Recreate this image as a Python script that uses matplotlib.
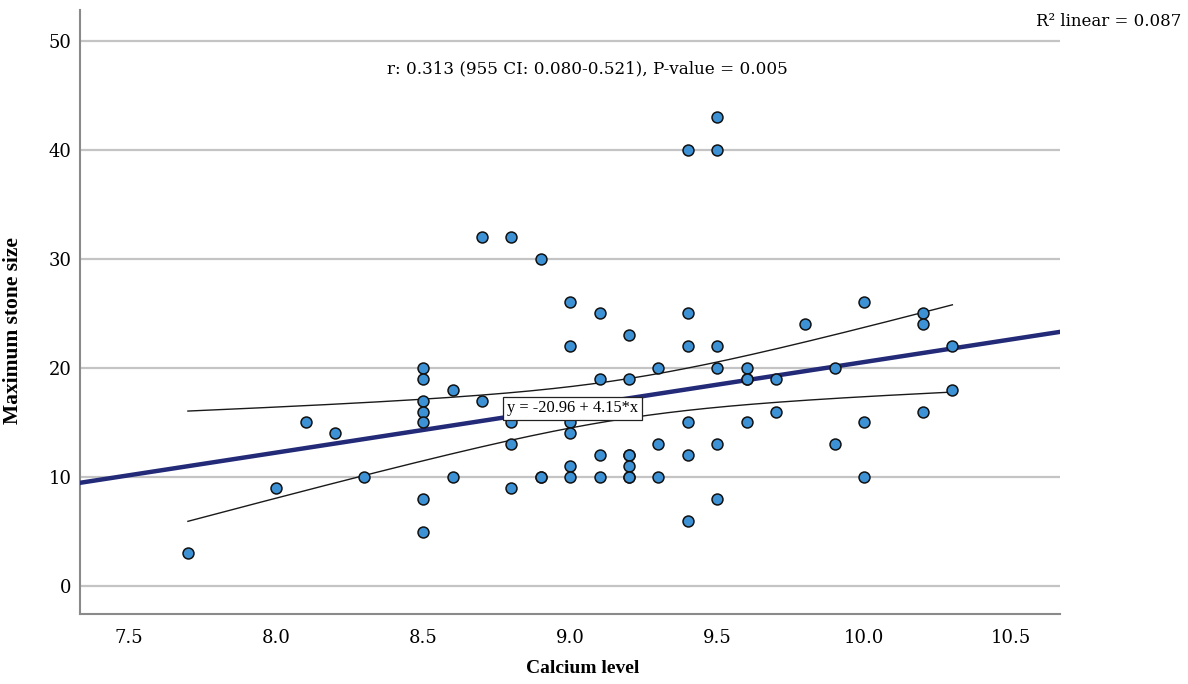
import numpy as np
import matplotlib
matplotlib.use("Agg")
import matplotlib.pyplot as plt

# ---- data ----
calcium = [7.7, 8.0, 8.1, 8.2, 8.3,
           8.5, 8.5, 8.5, 8.5, 8.5, 8.5, 8.5,
           8.6, 8.6,
           8.7, 8.7,
           8.8, 8.8, 8.8, 8.8,
           8.9, 8.9, 8.9,
           9.0, 9.0, 9.0, 9.0, 9.0, 9.0,
           9.1, 9.1, 9.1, 9.1,
           9.2, 9.2, 9.2, 9.2, 9.2, 9.2, 9.2,
           9.3, 9.3, 9.3,
           9.4, 9.4, 9.4, 9.4, 9.4, 9.4,
           9.5, 9.5, 9.5, 9.5, 9.5, 9.5,
           9.6, 9.6, 9.6, 9.6,
           9.7, 9.7,
           9.8,
           9.9, 9.9,
           10.0, 10.0, 10.0,
           10.2, 10.2, 10.2,
           10.3, 10.3]
stone = [3, 9, 15, 14, 10,
         20, 19, 17, 16, 15, 8, 5,
         18, 10,
         32, 17,
         32, 15, 13, 9,
         30, 10, 10,
         26, 22, 15, 14, 11, 10,
         25, 19, 12, 10,
         23, 19, 12, 12, 11, 10, 10,
         20, 13, 10,
         40, 25, 22, 15, 12, 6,
         43, 40, 22, 20, 13, 8,
         20, 19, 19, 15,
         19, 16,
         24,
         20, 13,
         26, 15, 10,
         25, 24, 16,
         22, 18]

intercept = -20.96
slope = 4.15
r2_text = "R\u00b2 linear = 0.087"
stats_text = "r: 0.313 (955 CI: 0.080-0.521), P-value = 0.005"
eq_text = "y = -20.96 + 4.15*x"

x_ticks = [7.5, 8.0, 8.5, 9.0, 9.5, 10.0, 10.5]
y_ticks = [0, 10, 20, 30, 40, 50]

x = np.array(calcium)
y = np.array(stone)

fig = plt.figure(figsize=(11.88, 6.84), dpi=100)
ax = fig.add_axes([80/1188, 1 - 614/684, 980/1188, 604/684])

serif = ["DejaVu Serif"]
lib = ["Liberation Serif", "DejaVu Serif"]

xmin, xmax = 7.333, 10.666
ax.set_xlim(xmin, xmax)
ax.set_ylim(-2.55, 52.8)

# grid
for yt in y_ticks:
    ax.axhline(yt, color="#c4c4c4", lw=1.6, zorder=0)

# regression line over the full axis
xl = np.array([xmin, xmax])
ax.plot(xl, intercept + slope * xl, color="#232a78", lw=3.2, zorder=3)

# mean confidence band (95%) about the fit
n = len(x)
resid = y - (intercept + slope * x)
s = np.sqrt(np.sum(resid**2) / (n - 2))
xbar = x.mean()
sxx = np.sum((x - xbar) ** 2)
tcrit = 1.993
xb = np.linspace(x.min(), x.max(), 200)
fit_b = intercept + slope * xb
hw = tcrit * s * np.sqrt(1 / n + (xb - xbar) ** 2 / sxx)
ax.plot(xb, fit_b + hw, color="#1a1a1a", lw=1.0, zorder=3)
ax.plot(xb, fit_b - hw, color="#1a1a1a", lw=1.0, zorder=3)

# points
ax.scatter(x, y, s=62, facecolor="#3d92d6", edgecolor="#111111",
           linewidth=1.1, zorder=4)

# equation label
ax.text(8.785, 16.3, eq_text, ha="left", va="center", fontsize=11.8,
        family=lib, zorder=6,
        bbox=dict(boxstyle="square,pad=0.22", fc="white", ec="#222222", lw=0.9))

# stats text
ax.text(0.518, 0.902, stats_text, transform=ax.transAxes, ha="center",
        va="center", fontsize=12.1, family=serif)

fig.text(1181/1188, 1 - 21/684, r2_text, ha="right", va="center",
         fontsize=12, family=serif)

# axes styling
for side in ["top", "right"]:
    ax.spines[side].set_visible(False)
for side in ["left", "bottom"]:
    ax.spines[side].set_color("#8a8a8a")
    ax.spines[side].set_linewidth(1.5)

ax.set_xticks(x_ticks)
ax.set_xticklabels([f"{v:.1f}" for v in x_ticks])
ax.set_yticks(y_ticks)
ax.tick_params(length=0, labelsize=13)
for lbl in ax.get_xticklabels() + ax.get_yticklabels():
    lbl.set_family(serif)
ax.tick_params(axis="x", pad=11)
ax.tick_params(axis="y", pad=6)

ax.set_xlabel("Calcium level", fontsize=14, fontweight="bold", family=lib)
ax.xaxis.set_label_coords(0.513, -0.09)
ax.xaxis.label.set_va("center")
ax.set_ylabel("Maximum stone size", fontsize=15.5, fontweight="bold",
              family=lib)
ax.yaxis.set_label_coords(-0.058, 0.47)

fig.savefig("out.png", dpi=100)
